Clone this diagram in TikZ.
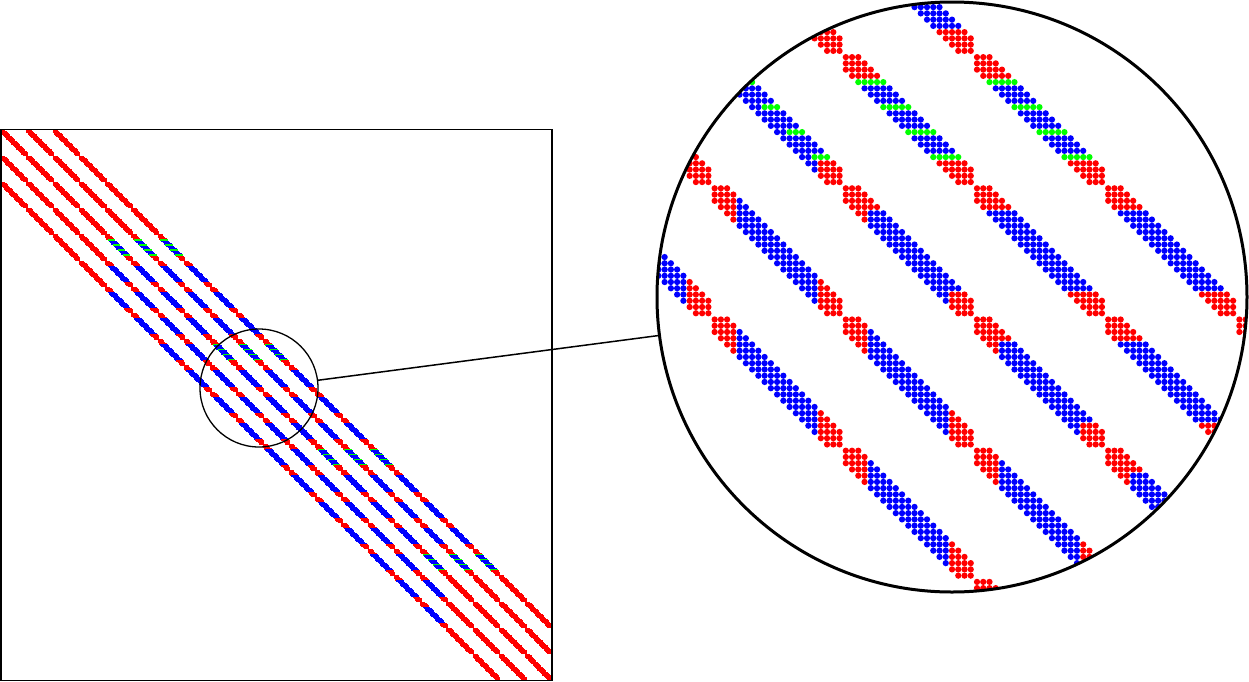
\documentclass[tikz,border=0pt]{standalone}
\usepackage{tikz}
\tikzset{
    every picture/.style={x=0.5pt, y=-0.5pt}, % one unit is one pixel of the plot
    entrygrid/.style={ % matrix entry (j,i) sits at column j, row i
        shift={(1.625,130.125)},
        scale=1.2494
    },
    rowrun/.style={line width=0.8pt}, % one row of a band in the small plot
    frame/.style={draw, line width=0.65pt},
    lens/.style={ % the small circle on the matrix
        circle, draw, inner sep=0pt,
        minimum size=59pt,
        line width=0.65pt
    },
    magnifier/.style={ % the large circle with the enlarged entries
        lens,
        minimum size=295pt,
        line width=1.5pt
    },
    link/.style={draw, line width=0.75pt}
}
\def\greenname{green}
% colour of unknown #1 on the 21x21 grid: red border, green coarse point, blue rest
\newcommand\entrytype[1]{%
    \edef\eB{\the\numexpr(#1-10)/21\relax}%
    \edef\eb{\the\numexpr#1-21*\eB\relax}%
    \def\etype{blue}%
    \ifnum\eB<4 \def\etype{red}\fi
    \ifnum\eB>16 \def\etype{red}\fi
    \ifnum\eb<4 \def\etype{red}\fi
    \ifnum\eb>16 \def\etype{red}\fi
    \ifnum\numexpr\eB-4*((2*\eB-3)/8)\relax=0
        \ifnum\numexpr\eb-4*((2*\eb-3)/8)\relax=0
            \ifnum\eB>3 \ifnum\eB<17 \ifnum\eb>3 \ifnum\eb<17
                \def\etype{green}\fi\fi\fi\fi
        \fi
    \fi}
% whole matrix, one short line per row and band
\newcommand\overviewrows{%
    \foreach \i in {0,...,440}{%
        \edef\rB{\the\numexpr(\i-10)/21\relax}%
        \edef\ra{\the\numexpr\i-21*\rB\relax}%
        \entrytype{\i}\let\rowtype\etype
        \edef\lo{\the\numexpr\ra-2\relax}\ifnum\lo<0 \def\lo{0}\fi
        \edef\hi{\the\numexpr\ra+2\relax}\ifnum\hi>20 \def\hi{20}\fi
        \foreach \k in {-2,...,2}{%
            \edef\cB{\the\numexpr\rB+\k\relax}%
            \ifnum\cB>-1 \ifnum\cB<21
                \ifnum\k<0
                    \entrytype{\the\numexpr21*\cB+\ra\relax}%
                    \ifx\etype\greenname\def\etype{blue}\fi
                \else
                    \let\etype\rowtype
                \fi
                \draw[rowrun, \etype] (21*\cB+\lo-1.1,\i) -- (21*\cB+\hi+1.1,\i);
            \fi\fi
        }%
    }%
}
% rows #1 to #2 of the matrix as dots of radius #3, only near the centre (206,206)
\newcommand\spyrows[3]{%
    \foreach \i in {#1,...,#2}{%
        \edef\rB{\the\numexpr(\i-10)/21\relax}%
        \edef\ra{\the\numexpr\i-21*\rB\relax}%
        \entrytype{\i}\let\rowtype\etype
        \foreach \k in {-2,...,2}{%
            \edef\cB{\the\numexpr\rB+\k\relax}%
            \ifnum\cB>-1 \ifnum\cB<21
                \foreach \dd in {-2,...,2}{%
                    \edef\cb{\the\numexpr\ra+\dd\relax}%
                    \ifnum\cb>-1 \ifnum\cb<21
                        \edef\jj{\the\numexpr21*\cB+\cb\relax}%
                        \ifnum\numexpr(\jj-206)*(\jj-206)+(\i-206)*(\i-206)\relax<2500
                            \ifnum\jj<\i\relax
                                \entrytype{\jj}\ifx\etype\greenname\def\etype{blue}\fi
                            \else
                                \let\etype\rowtype
                            \fi
                            \fill[\etype] (\jj,\i) circle (#3);
                        \fi
                    \fi\fi
                }%
            \fi\fi
        }%
    }%
}

\begin{document}
\begin{tikzpicture}
    \useasboundingbox (0,0) rectangle (1249,681);

    % whole matrix
    \begin{scope}
        \clip (1,129.5) rectangle (552,680.5);
        \begin{scope}[entrygrid]
            \overviewrows
        \end{scope}
    \end{scope}
    \draw[frame] (1,129.5) rectangle (552,680.5);

    % enlarged part
    \begin{scope}
        \clip (952,297) circle (295);
        \begin{scope}[shift={(-343,-1643)}, scale=5]
            \begin{scope}[entrygrid]
                \spyrows{157}{256}{0.5}
            \end{scope}
        \end{scope}
    \end{scope}

    \node[lens] (spot) at (259,388) {};
    \node[magnifier] (zoom) at (952,297) {};
    \draw[link] (spot) -- (zoom);
\end{tikzpicture}
\end{document}
